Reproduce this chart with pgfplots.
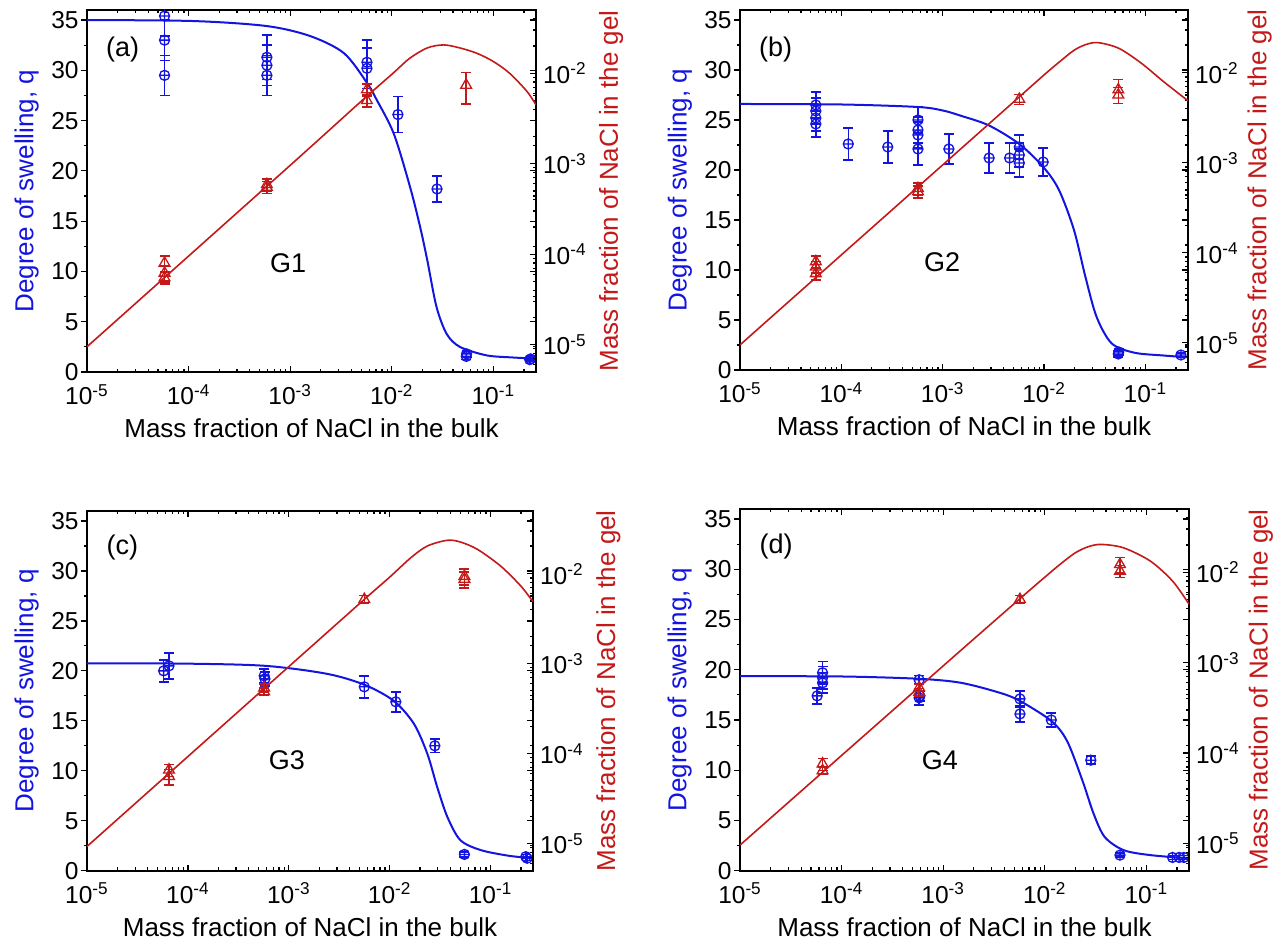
\documentclass[border=0pt]{standalone}
\usepackage{fontspec}
\setmainfont{Liberation Sans}
\usepackage{pgfplots}
\pgfplotsset{compat=1.18}
\definecolor{qblue}{RGB}{20,20,225}
\definecolor{gred}{RGB}{195,25,25}
\newcommand\tsp[1]{10\textsuperscript{#1}}
\newcommand\annfont{\fontsize{13.5}{16}\selectfont}

\pgfplotsset{every axis/.append style={
    scale only axis, anchor=south west,
    major tick length=3pt, minor tick length=1.6pt,
    tick style={black, line width=0.6pt},
    axis line style={black, line width=0.9pt},
    tick label style={font=\fontsize{12.25}{14}\selectfont, black},
    label style={font=\fontsize{13}{15}\selectfont}}}

\begin{document}
\begin{tikzpicture}
\useasboundingbox (0,0) rectangle (642.5pt,475.5pt);

% ================= Panel (a) =================
\begin{axis}[at={(43.5pt,289.5pt)}, width=224.5pt, height=181pt,
    xmode=log, xmin=1e-5, xmax=0.263, ymin=0, ymax=36,
    xtick={1e-5,1e-4,1e-3,1e-2,1e-1},
    xticklabels={\tsp{-5},\tsp{-4},\tsp{-3},\tsp{-2},\tsp{-1}},
    minor xtick={2e-5,3e-5,4e-5,5e-5,6e-5,7e-5,8e-5,9e-5,2e-4,3e-4,4e-4,5e-4,6e-4,7e-4,8e-4,9e-4,2e-3,3e-3,4e-3,5e-3,6e-3,7e-3,8e-3,9e-3,2e-2,3e-2,4e-2,5e-2,6e-2,7e-2,8e-2,9e-2,2e-1},
    xtick pos=both, xtick align=inside,
    ytick={0,5,10,15,20,25,30,35}, yticklabels={0,5,10,15,20,25,30,35}, minor y tick num=1,
    ytick pos=left, ytick align=outside,
    xticklabel style={anchor=base, yshift=-16.5pt},
    yticklabel style={anchor=east, inner sep=1pt},
    xlabel={Mass fraction of NaCl in the bulk},
    ylabel={Degree of swelling, q},
    xlabel style={at={(axis description cs:0.5,0)}, anchor=base, yshift=-33pt},
    ylabel style={at={(axis description cs:-0.1192,0.5)}, anchor=base, text=qblue}]
\addplot[qblue, line width=1pt, smooth, no marks] coordinates {(1e-5,35.0) (1.12e-4,34.9) (5.9e-4,34.4) (1.58e-3,33.4) (3.39e-3,31.7) (5.75e-3,28.7) (7.08e-3,27.1) (0.01047,23.7) (0.01514,18.4) (0.01905,14.4) (0.02239,11.1) (0.02754,6.5) (0.03467,3.8) (0.04677,2.5) (0.0851,1.66) (0.15,1.45) (0.263,1.33)};
\addplot[qblue, only marks, mark=oplus, mark size=2.5pt, mark options={line width=0.65pt},
  error bars/y dir=both, error bars/y explicit, error bars/error mark=|,
  error bars/error mark options={qblue, mark size=2.5pt, line width=0.7pt},
  error bars/error bar style={line width=0.75pt}] coordinates {
(5.8e-5,35.4) +- (0,2.0) (5.8e-5,33.0) +- (0,2.0) (5.8e-5,29.5) +- (0,2.0)
(5.9e-4,31.3) +- (0,2.2) (5.9e-4,30.5) +- (0,2.0) (5.9e-4,29.5) +- (0,2.0)
(5.7e-3,30.8) +- (0,2.2) (5.7e-3,30.2) +- (0,2.0)
(0.0115,25.6) +- (0,1.8) (0.0279,18.2) +- (0,1.3)
(0.0542,1.55) +- (0,0.3) (0.0545,1.8) +- (0,0.3)
(0.228,1.23) +- (0,0.2) (0.233,1.3) +- (0,0.2)};
\node[font=\annfont, anchor=west] at (rel axis cs:0.027,0.89) {(a)};
\node[font=\annfont] at (rel axis cs:0.448,0.30) {G1};
\end{axis}
\begin{axis}[at={(43.5pt,289.5pt)}, width=224.5pt, height=181pt,
    xmode=log, xmin=1e-5, xmax=0.263, ymin=0, ymax=36,
    axis x line=none, axis y line*=right,
    ytick={0,5,10,15,20,25,30,35}, minor y tick num=1, yticklabels={},
    ytick align=inside]
\end{axis}
\begin{axis}[at={(43.5pt,289.5pt)}, width=224.5pt, height=181pt,
    xmode=log, xmin=1e-5, xmax=0.263, ymode=log, ymin=5e-6, ymax=5e-2,
    axis x line=none, axis y line*=right,
    ytick={1e-5,1e-4,1e-3,1e-2},
    yticklabels={\tsp{-5},\tsp{-4},\tsp{-3},\tsp{-2}},
    minor ytick={6e-6,7e-6,8e-6,9e-6,2e-5,3e-5,4e-5,5e-5,6e-5,7e-5,8e-5,9e-5,2e-4,3e-4,4e-4,5e-4,6e-4,7e-4,8e-4,9e-4,2e-3,3e-3,4e-3,5e-3,6e-3,7e-3,8e-3,9e-3,2e-2,3e-2,4e-2},
    ytick align=inside,
    yticklabel style={anchor=west},
    ylabel={Mass fraction of NaCl in the gel},
    ylabel style={at={(axis description cs:1.1826,0.5)}, anchor=base, text=gred}]
\addplot[gred, line width=0.8pt, smooth, no marks] coordinates {(1e-5,9.5e-6) (1e-3,9.6e-4) (5e-3,4.9e-3) (0.0105,0.0102) (0.015,0.01462) (0.0224,0.01905) (0.0324,0.02056) (0.0468,0.01905) (0.069,0.0166) (0.1,0.01349) (0.1445,0.01) (0.214,0.00631) (0.263,0.00447)};
\addplot[gred, only marks, mark=triangle, mark size=3.1pt, mark options={line width=0.65pt},
  error bars/y dir=both, error bars/y explicit relative, error bars/error mark=|,
  error bars/error mark options={gred, mark size=2.5pt, line width=0.7pt},
  error bars/error bar style={line width=0.75pt}] coordinates {
(5.8e-5,8.0e-5) +- (0,0.2) (5.8e-5,6.2e-5) +- (0,0.2) (5.8e-5,5.5e-5) +- (0,0.15)
(5.9e-4,5.9e-4) +- (0,0.15) (5.9e-4,5.5e-4) +- (0,0.15)
(5.7e-3,6.6e-3) +- (0,0.15) (5.7e-3,5.0e-3) +- (0,0.15)
(0.054,7.4e-3) +- (0,0.38)};
\end{axis}

% ================= Panel (b) =================
\begin{axis}[at={(370pt,290.5pt)}, width=224pt, height=180pt,
    xmode=log, xmin=1e-5, xmax=0.263, ymin=0, ymax=36,
    xtick={1e-5,1e-4,1e-3,1e-2,1e-1},
    xticklabels={\tsp{-5},\tsp{-4},\tsp{-3},\tsp{-2},\tsp{-1}},
    minor xtick={2e-5,3e-5,4e-5,5e-5,6e-5,7e-5,8e-5,9e-5,2e-4,3e-4,4e-4,5e-4,6e-4,7e-4,8e-4,9e-4,2e-3,3e-3,4e-3,5e-3,6e-3,7e-3,8e-3,9e-3,2e-2,3e-2,4e-2,5e-2,6e-2,7e-2,8e-2,9e-2,2e-1},
    xtick pos=both, xtick align=inside,
    ytick={0,5,10,15,20,25,30,35}, yticklabels={0,5,10,15,20,25,30,35}, minor y tick num=1,
    ytick pos=left, ytick align=outside,
    xticklabel style={anchor=base, yshift=-16.5pt},
    yticklabel style={anchor=east, inner sep=1pt},
    xlabel={Mass fraction of NaCl in the bulk},
    ylabel={Degree of swelling, q},
    xlabel style={at={(axis description cs:0.5,0)}, anchor=base, yshift=-33pt},
    ylabel style={at={(axis description cs:-0.1194,0.5)}, anchor=base, text=qblue}]
\addplot[qblue, line width=1pt, smooth, no marks] coordinates {(1e-5,26.6) (1e-4,26.55) (5.68e-4,26.3) (1e-3,25.95) (1.535e-3,25.4) (2.864e-3,24.45) (5.69e-3,22.6) (9.82e-3,20.3) (0.01403,18.0) (0.01972,14.0) (0.0256,9.3) (0.033,5.3) (0.04645,2.66) (0.0776,1.73) (0.15,1.45) (0.263,1.27)};
\addplot[qblue, only marks, mark=oplus, mark size=2.5pt, mark options={line width=0.65pt},
  error bars/y dir=both, error bars/y explicit, error bars/error mark=|,
  error bars/error mark options={qblue, mark size=2.5pt, line width=0.7pt},
  error bars/error bar style={line width=0.75pt}] coordinates {
(5.6e-5,26.5) +- (0,1.3) (5.6e-5,25.9) +- (0,1.3) (5.6e-5,25.2) +- (0,1.3) (5.6e-5,24.6) +- (0,1.3)
(1.17e-4,22.6) +- (0,1.6) (2.87e-4,22.3) +- (0,1.6)
(5.7e-4,25.0) +- (0,1.3) (5.7e-4,24.0) +- (0,1.3) (5.7e-4,23.5) +- (0,1.3) (5.7e-4,22.1) +- (0,1.6)
(1.15e-3,22.1) +- (0,1.5) (2.87e-3,21.2) +- (0,1.5) (4.57e-3,21.2) +- (0,1.5)
(5.7e-3,22.3) +- (0,1.2) (5.7e-3,21.5) +- (0,1.2) (5.7e-3,20.7) +- (0,1.4)
(9.8e-3,20.8) +- (0,1.4)
(0.054,1.6) +- (0,0.3) (0.0545,1.8) +- (0,0.3)
(0.224,1.5) +- (0,0.2)};
\node[font=\annfont, anchor=west] at (rel axis cs:0.027,0.89) {(b)};
\node[font=\annfont] at (rel axis cs:0.451,0.30) {G2};
\end{axis}
\begin{axis}[at={(370pt,290.5pt)}, width=224pt, height=180pt,
    xmode=log, xmin=1e-5, xmax=0.263, ymin=0, ymax=36,
    axis x line=none, axis y line*=right,
    ytick={0,5,10,15,20,25,30,35}, minor y tick num=1, yticklabels={},
    ytick align=inside]
\end{axis}
\begin{axis}[at={(370pt,290.5pt)}, width=224pt, height=180pt,
    xmode=log, xmin=1e-5, xmax=0.263, ymode=log, ymin=5e-6, ymax=5e-2,
    axis x line=none, axis y line*=right,
    ytick={1e-5,1e-4,1e-3,1e-2},
    yticklabels={\tsp{-5},\tsp{-4},\tsp{-3},\tsp{-2}},
    minor ytick={6e-6,7e-6,8e-6,9e-6,2e-5,3e-5,4e-5,5e-5,6e-5,7e-5,8e-5,9e-5,2e-4,3e-4,4e-4,5e-4,6e-4,7e-4,8e-4,9e-4,2e-3,3e-3,4e-3,5e-3,6e-3,7e-3,8e-3,9e-3,2e-2,3e-2,4e-2},
    ytick align=inside,
    yticklabel style={anchor=west},
    ylabel={Mass fraction of NaCl in the gel},
    ylabel style={at={(axis description cs:1.175,0.5)}, anchor=base, text=gred}]
\addplot[gred, line width=0.8pt, smooth, no marks] coordinates {(1e-5,9.5e-6) (1e-3,9.5e-4) (5e-3,4.75e-3) (0.01,9.5e-3) (0.014,0.0131) (0.0197,0.0178) (0.0257,0.0206) (0.034,0.0217) (0.0547,0.01875) (0.0912,0.0128) (0.1514,0.00798) (0.263,0.0049)};
\addplot[gred, only marks, mark=triangle, mark size=3.1pt, mark options={line width=0.65pt},
  error bars/y dir=both, error bars/y explicit relative, error bars/error mark=|,
  error bars/error mark options={gred, mark size=2.5pt, line width=0.7pt},
  error bars/error bar style={line width=0.75pt}] coordinates {
(5.6e-5,8.0e-5) +- (0,0.15) (5.6e-5,7.0e-5) +- (0,0.15) (5.6e-5,5.9e-5) +- (0,0.15)
(5.7e-4,5.2e-4) +- (0,0.15) (5.7e-4,4.8e-4) +- (0,0.15)
(5.7e-3,5.1e-3) +- (0,0.12)
(0.054,6.5e-3) +- (0,0.3) (0.054,5.7e-3) +- (0,0.2)};
\end{axis}

% ================= Panel (c) =================
\begin{axis}[at={(43.5pt,40.15pt)}, width=223pt, height=179.85pt,
    xmode=log, xmin=1e-5, xmax=0.263, ymin=0, ymax=36,
    xtick={1e-5,1e-4,1e-3,1e-2,1e-1},
    xticklabels={\tsp{-5},\tsp{-4},\tsp{-3},\tsp{-2},\tsp{-1}},
    minor xtick={2e-5,3e-5,4e-5,5e-5,6e-5,7e-5,8e-5,9e-5,2e-4,3e-4,4e-4,5e-4,6e-4,7e-4,8e-4,9e-4,2e-3,3e-3,4e-3,5e-3,6e-3,7e-3,8e-3,9e-3,2e-2,3e-2,4e-2,5e-2,6e-2,7e-2,8e-2,9e-2,2e-1},
    xtick pos=both, xtick align=inside,
    ytick={0,5,10,15,20,25,30,35}, yticklabels={0,5,10,15,20,25,30,35}, minor y tick num=1,
    ytick pos=left, ytick align=outside,
    xticklabel style={anchor=base, yshift=-16.5pt},
    yticklabel style={anchor=east, inner sep=1pt},
    xlabel={Mass fraction of NaCl in the bulk},
    ylabel={Degree of swelling, q},
    xlabel style={at={(axis description cs:0.5,0)}, anchor=base, yshift=-33pt},
    ylabel style={at={(axis description cs:-0.12,0.5)}, anchor=base, text=qblue}]
\addplot[qblue, line width=1pt, smooth, no marks] coordinates {(1e-5,20.76) (1e-4,20.72) (5.9e-4,20.5) (2.4e-3,19.7) (5.64e-3,18.6) (0.01096,17.0) (0.01738,14.7) (0.0236,11.7) (0.0295,8.4) (0.0372,5.4) (0.0501,3.06) (0.0794,2.07) (0.15,1.5) (0.263,1.24)};
\addplot[qblue, only marks, mark=oplus, mark size=2.5pt, mark options={line width=0.65pt},
  error bars/y dir=both, error bars/y explicit, error bars/error mark=|,
  error bars/error mark options={qblue, mark size=2.5pt, line width=0.7pt},
  error bars/error bar style={line width=0.75pt}] coordinates {
(5.75e-5,20.0) +- (0,1.1) (6.5e-5,20.5) +- (0,1.3)
(5.7e-4,19.5) +- (0,0.7) (5.8e-4,19.2) +- (0,0.7)
(5.6e-3,18.4) +- (0,1.1) (0.0115,16.9) +- (0,1.0) (0.028,12.5) +- (0,0.7)
(0.055,1.63) +- (0,0.25)
(0.223,1.4) +- (0,0.2) (0.23,1.25) +- (0,0.2)};
\node[font=\annfont, anchor=west] at (rel axis cs:0.028,0.898) {(c)};
\node[font=\annfont] at (rel axis cs:0.448,0.308) {G3};
\end{axis}
\begin{axis}[at={(43.5pt,40.15pt)}, width=223pt, height=179.85pt,
    xmode=log, xmin=1e-5, xmax=0.263, ymin=0, ymax=36,
    axis x line=none, axis y line*=right,
    ytick={0,5,10,15,20,25,30,35}, minor y tick num=1, yticklabels={},
    ytick align=inside]
\end{axis}
\begin{axis}[at={(43.5pt,40.15pt)}, width=223pt, height=179.85pt,
    xmode=log, xmin=1e-5, xmax=0.263, ymode=log, ymin=5e-6, ymax=5e-2,
    axis x line=none, axis y line*=right,
    ytick={1e-5,1e-4,1e-3,1e-2},
    yticklabels={\tsp{-5},\tsp{-4},\tsp{-3},\tsp{-2}},
    minor ytick={6e-6,7e-6,8e-6,9e-6,2e-5,3e-5,4e-5,5e-5,6e-5,7e-5,8e-5,9e-5,2e-4,3e-4,4e-4,5e-4,6e-4,7e-4,8e-4,9e-4,2e-3,3e-3,4e-3,5e-3,6e-3,7e-3,8e-3,9e-3,2e-2,3e-2,4e-2},
    ytick align=inside,
    yticklabel style={anchor=west},
    ylabel={Mass fraction of NaCl in the gel},
    ylabel style={at={(axis description cs:1.184,0.5)}, anchor=base, text=gred}]
\addplot[gred, line width=0.8pt, smooth, no marks] coordinates {(1e-5,9.3e-6) (1e-3,9.3e-4) (5.6e-3,5.2e-3) (0.01,9.2e-3) (0.01622,0.01514) (0.0236,0.0204) (0.03715,0.0236) (0.0501,0.0226) (0.0741,0.01871) (0.1259,0.01219) (0.1995,7.31e-3) (0.263,4.9e-3)};
\addplot[gred, only marks, mark=triangle, mark size=3.1pt, mark options={line width=0.65pt},
  error bars/y dir=both, error bars/y explicit relative, error bars/error mark=|,
  error bars/error mark options={gred, mark size=2.5pt, line width=0.7pt},
  error bars/error bar style={line width=0.75pt}] coordinates {
(6.5e-5,6.6e-5) +- (0,0.15) (6.5e-5,5.6e-5) +- (0,0.2)
(5.7e-4,5.4e-4) +- (0,0.1) (5.7e-4,4.9e-4) +- (0,0.1)
(5.6e-3,5.2e-3) +- (0,0.1)
(0.055,9.4e-3) +- (0,0.2) (0.055,8.7e-3) +- (0,0.2)};
\end{axis}

% ================= Panel (d) =================
\begin{axis}[at={(370pt,40.15pt)}, width=224.5pt, height=180.85pt,
    xmode=log, xmin=1e-5, xmax=0.263, ymin=0, ymax=36,
    xtick={1e-5,1e-4,1e-3,1e-2,1e-1},
    xticklabels={\tsp{-5},\tsp{-4},\tsp{-3},\tsp{-2},\tsp{-1}},
    minor xtick={2e-5,3e-5,4e-5,5e-5,6e-5,7e-5,8e-5,9e-5,2e-4,3e-4,4e-4,5e-4,6e-4,7e-4,8e-4,9e-4,2e-3,3e-3,4e-3,5e-3,6e-3,7e-3,8e-3,9e-3,2e-2,3e-2,4e-2,5e-2,6e-2,7e-2,8e-2,9e-2,2e-1},
    xtick pos=both, xtick align=inside,
    ytick={0,5,10,15,20,25,30,35}, yticklabels={0,5,10,15,20,25,30,35}, minor y tick num=1,
    ytick pos=left, ytick align=outside,
    xticklabel style={anchor=base, yshift=-16.5pt},
    yticklabel style={anchor=east, inner sep=1pt},
    xlabel={Mass fraction of NaCl in the bulk},
    ylabel={Degree of swelling, q},
    xlabel style={at={(axis description cs:0.5,0)}, anchor=base, yshift=-33pt},
    ylabel style={at={(axis description cs:-0.1192,0.5)}, anchor=base, text=qblue}]
\addplot[qblue, line width=1pt, smooth, no marks] coordinates {(1e-5,19.36) (1e-4,19.33) (5.8e-4,19.1) (1.5e-3,18.7) (3.63e-3,17.7) (5.69e-3,16.9) (0.01161,14.9) (0.0166,12.9) (0.02344,9.0) (0.0302,5.7) (0.0389,3.36) (0.0596,2.05) (0.1096,1.55) (0.263,1.23)};
\addplot[qblue, only marks, mark=oplus, mark size=2.5pt, mark options={line width=0.65pt},
  error bars/y dir=both, error bars/y explicit, error bars/error mark=|,
  error bars/error mark options={qblue, mark size=2.5pt, line width=0.7pt},
  error bars/error bar style={line width=0.75pt}] coordinates {
(5.75e-5,17.4) +- (0,0.8)
(6.5e-5,19.7) +- (0,1.1) (6.5e-5,19.2) +- (0,1.1) (6.5e-5,18.7) +- (0,1.0)
(5.8e-4,19.0) +- (0,0.4) (5.8e-4,17.2) +- (0,0.7) (5.9e-4,17.4) +- (0,0.5)
(5.7e-3,17.1) +- (0,0.8) (5.7e-3,15.6) +- (0,0.8)
(0.0116,15.0) +- (0,0.7) (0.0284,11.0) +- (0,0.4)
(0.055,1.55) +- (0,0.2)
(0.181,1.32) +- (0,0.2) (0.21,1.32) +- (0,0.2) (0.234,1.32) +- (0,0.2)};
\node[font=\annfont, anchor=west] at (rel axis cs:0.028,0.897) {(d)};
\node[font=\annfont] at (rel axis cs:0.445,0.305) {G4};
\end{axis}
\begin{axis}[at={(370pt,40.15pt)}, width=224.5pt, height=180.85pt,
    xmode=log, xmin=1e-5, xmax=0.263, ymin=0, ymax=36,
    axis x line=none, axis y line*=right,
    ytick={0,5,10,15,20,25,30,35}, minor y tick num=1, yticklabels={},
    ytick align=inside]
\end{axis}
\begin{axis}[at={(370pt,40.15pt)}, width=224.5pt, height=180.85pt,
    xmode=log, xmin=1e-5, xmax=0.263, ymode=log, ymin=5e-6, ymax=5e-2,
    axis x line=none, axis y line*=right,
    ytick={1e-5,1e-4,1e-3,1e-2},
    yticklabels={\tsp{-5},\tsp{-4},\tsp{-3},\tsp{-2}},
    minor ytick={6e-6,7e-6,8e-6,9e-6,2e-5,3e-5,4e-5,5e-5,6e-5,7e-5,8e-5,9e-5,2e-4,3e-4,4e-4,5e-4,6e-4,7e-4,8e-4,9e-4,2e-3,3e-3,4e-3,5e-3,6e-3,7e-3,8e-3,9e-3,2e-2,3e-2,4e-2},
    ytick align=inside,
    yticklabel style={anchor=west},
    ylabel={Mass fraction of NaCl in the gel},
    ylabel style={at={(axis description cs:1.175,0.5)}, anchor=base, text=gred}]
\addplot[gred, line width=0.8pt, smooth, no marks] coordinates {(1e-5,9.6e-6) (1e-3,9.2e-4) (5.7e-3,5.1e-3) (0.01,8.8e-3) (0.01413,0.0122) (0.01995,0.01637) (0.027,0.0192) (0.03606,0.02028) (0.05957,0.01862) (0.1096,0.01327) (0.182,7.94e-3) (0.263,4.43e-3)};
\addplot[gred, only marks, mark=triangle, mark size=3.1pt, mark options={line width=0.65pt},
  error bars/y dir=both, error bars/y explicit relative, error bars/error mark=|,
  error bars/error mark options={gred, mark size=2.5pt, line width=0.7pt},
  error bars/error bar style={line width=0.75pt}] coordinates {
(6.5e-5,7.6e-5) +- (0,0.15) (6.5e-5,6.4e-5) +- (0,0.1)
(5.8e-4,5.3e-4) +- (0,0.1) (5.8e-4,4.7e-4) +- (0,0.1)
(5.7e-3,5.0e-3) +- (0,0.1)
(0.055,0.0122) +- (0,0.2) (0.055,0.0103) +- (0,0.15)};
\end{axis}
\end{tikzpicture}
\end{document}
